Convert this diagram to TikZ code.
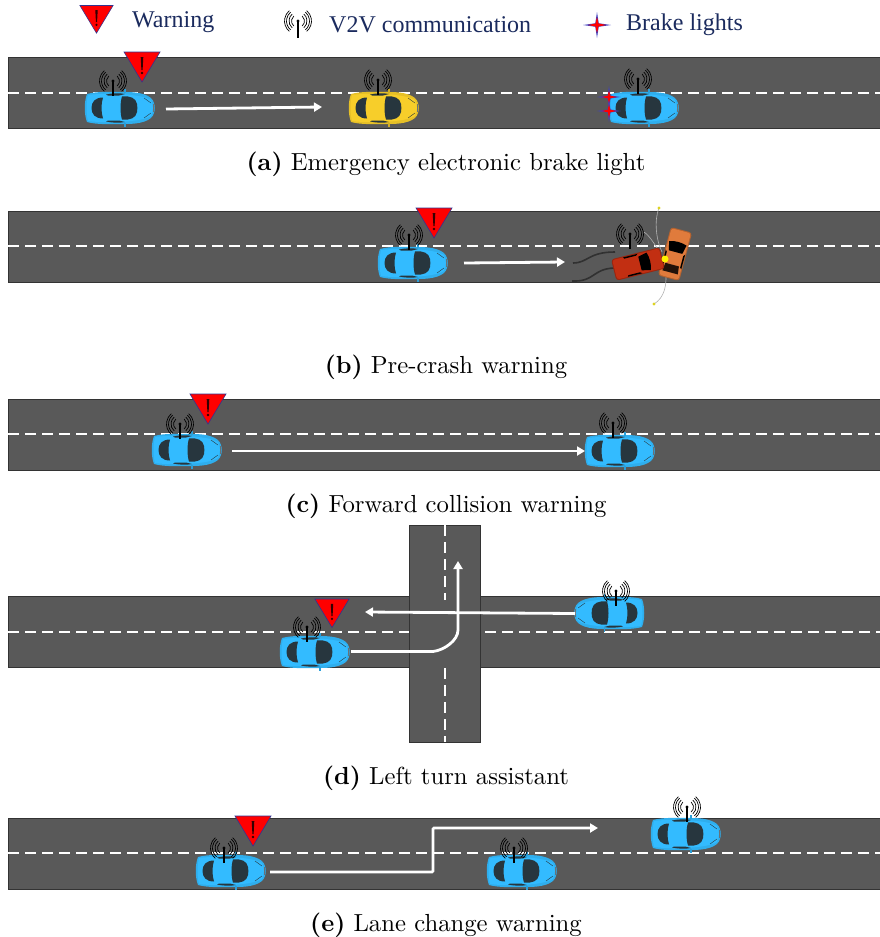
\documentclass[tikz,border=0pt]{standalone}
\usepackage{fontspec}
\newfontfamily\legendfont{Liberation Serif}
\usetikzlibrary{arrows.meta}
\definecolor{asphalt}{HTML}{595959}
\definecolor{roadedge}{HTML}{333333}
\definecolor{carblue}{HTML}{33BBFF}
\definecolor{caryellow}{HTML}{F7CE2A}
\definecolor{glass}{HTML}{27363E}
\definecolor{navytext}{HTML}{1B2B5E}
\definecolor{crashred}{HTML}{C22F12}
\definecolor{crashorange}{HTML}{E07B3C}
\tikzset{
  road/.style={fill=asphalt,draw=roadedge,line width=0.9pt},
  lanemark/.style={draw=white,line width=2.5pt,dash pattern=on 11pt off 6pt},
  pathline/.style={draw=white,line width=2.8pt,-{Triangle[length=8pt,width=9pt]}},
  caption/.style={scale=2.47,anchor=center,inner sep=0pt},
  legendtext/.style={font=\legendfont\fontsize{24}{28}\selectfont,text=navytext,anchor=west,inner sep=0pt},
  skid/.style={draw=black!45!asphalt,line width=1.6pt},
  debris/.style={draw=black!30,line width=0.6pt},
  pics/sportscar/.style={code={
    % body, nose towards +x
    \fill[#1!93!black] (-33,-14) .. controls (-36,-6) and (-36,6) .. (-33,14)
      .. controls (-22,17) and (-8,16) .. (6,16)
      .. controls (20,16) and (32,13) .. (34,5)
      .. controls (35,2) and (35,-2) .. (34,-5)
      .. controls (32,-13) and (20,-16) .. (6,-16)
      .. controls (-8,-16) and (-22,-17) .. (-33,-14) -- cycle;
    \fill[#1] (-32,-13) .. controls (-34,-5) and (-34,5) .. (-32,13)
      .. controls (-20,15) and (20,15) .. (31,8)
      .. controls (33.5,3) and (33.5,-3) .. (31,-8)
      .. controls (20,-15) and (-20,-15) .. (-32,-13) -- cycle;
    % rear window and windscreen
    \fill[glass] (-17,-10.5) .. controls (-25,-10.5) and (-28.5,-6) .. (-28.5,0)
      .. controls (-28.5,6) and (-25,10.5) .. (-17,10.5)
      .. controls (-19,4) and (-19,-4) .. (-17,-10.5) -- cycle;
    \fill[glass] (2,-11.5) .. controls (10,-12.5) and (16,-10) .. (17,-4)
      .. controls (17.5,-1) and (17.5,1) .. (17,4)
      .. controls (16,10) and (10,12.5) .. (2,11.5)
      .. controls (0,5) and (0,-5) .. (2,-11.5) -- cycle;
    % side windows
    \fill[glass] (-14,-13.5) .. controls (-7,-15) and (0,-15) .. (5,-14) -- (-1,-12.5) -- (-12,-12.5) -- cycle;
    \fill[glass] (-14,13.5) .. controls (-7,15) and (0,15) .. (5,14) -- (-1,12.5) -- (-12,12.5) -- cycle;
    % mirrors
    \fill[#1!85!black] (4,-19) rectangle (5.5,-15);
    \fill[#1!85!black] (4,15) rectangle (5.5,19);
    % bonnet creases and nose
    \draw[glass,line width=0.4pt] (24,-10) -- (31,-5);
    \draw[glass,line width=0.4pt] (24,10) -- (31,5);
    \draw[glass!70,line width=0.6pt] (33.5,-4) -- (33.5,4);
  }},
  pics/crashcar/.style={code={
    \fill[#1!80!black,rounded corners=3pt] (-25,-11) -- (-25,11) -- (25,11) -- (25,-11) -- cycle;
    \fill[#1,rounded corners=2.5pt] (-24,-10) -- (-24,10) -- (24,10) -- (24,-10) -- cycle;
    \fill[black] (2,-7) -- (11,-9) .. controls (13,-4) and (13,4) .. (11,9) -- (2,7) -- cycle;
    \fill[black] (-13,-10) -- (2,-10) -- (0,-8.5) -- (-12,-8.5) -- cycle;
    \fill[black] (-13,10) -- (2,10) -- (0,8.5) -- (-12,8.5) -- cycle;
  }},
  pics/rearpane/.style={code={
    \fill[black!85!crashorange] (-19,-8) -- (-11,-7) -- (-11,7) -- (-19,8) -- cycle;
  }},
  pics/alertsign/.style={code={
    \fill[red,draw=black!40!blue!60!gray,line width=0.6pt] (-18,0) -- (18,0) -- (0,30) -- cycle;
    \fill[black!80!red] (-1.3,5) -- (1.3,5) -- (0.6,18) -- (-0.6,18) -- cycle;
    \fill[black!80!red] (0,21) circle (1.3);
  }},
  pics/radiomast/.style={code={
    \draw[black,line width=1.1pt] (0,0) -- (0,15);
    \fill[black] (0,0) circle (1.7);
    \foreach \r in {6.5,9,11.5,13.5} {
      \draw[black,line width=0.7pt] (50:\r) arc (50:-50:\r);
      \draw[black,line width=0.7pt] (130:\r) arc (130:230:\r);
    }
  }},
  pics/brakeflare/.style={code={
    \fill[blue!50!gray] (-14,0) -- (0,-2) -- (14,0) -- (0,2) -- cycle;
    \fill[blue!50!gray] (0,-13) -- (2,0) -- (0,13) -- (-2,0) -- cycle;
    \fill[red] (-9,0) -- (-1.5,-1.5) -- (0,-8) -- (1.5,-1.5) -- (9,0) -- (1.5,1.5) -- (0,8) -- (-1.5,1.5) -- cycle;
  }},
}
\begin{document}
\begin{tikzpicture}[x=1pt,y=-1pt]
\useasboundingbox (0,0) rectangle (880,937);

% ---- key ----
\pic[scale=0.92] at (96.5,5.5) {alertsign};
\node[legendtext] (keywarn) at (132,22) {Warning};
\pic at (298,21) {radiomast};
\draw[black,line width=1.1pt] (298,30) -- (298,38);
\node[legendtext] (keyv2v) at (329,25) {V2V communication};
\pic at (597,25) {brakeflare};
\node[legendtext] (keybrake) at (626,25) {Brake lights};

% ---- (a) ----
\draw[road] (8,57) rectangle (881,128);
\draw[lanemark] (8,93) -- (881,93);
\pic at (120,108) {sportscar=carblue};
\pic at (384,108) {sportscar=caryellow};
\pic at (644,108) {sportscar=carblue};
\pic at (113,81) {radiomast};
\pic at (378,80) {radiomast};
\pic at (638,79) {radiomast};
\pic at (142,52) {alertsign};
\pic[scale=0.85] at (609,97) {brakeflare};
\pic[scale=0.85] at (609,111) {brakeflare};
\coordinate (a1) at (166,109);
\coordinate (a2) at (322,107);
\draw[pathline] (a1) -- (a2);
\node[caption] (capa) at (446,164) {\textbf{(a)} Emergency electronic brake light};

% ---- (b) ----
\draw[road] (8,211) rectangle (881,282);
\draw[lanemark] (8,246) -- (881,246);
\pic at (413,263) {sportscar=carblue};
\pic at (409,235) {radiomast};
\pic at (434,208) {alertsign};
\coordinate (b1) at (464,263);
\coordinate (b2) at (565,262);
\draw[pathline] (b1) -- (b2);
\draw[skid] (573,263) .. controls (588,263) and (588,252) .. (615,252);
\draw[skid] (572,281) .. controls (595,282) and (592,269) .. (614,268);
\draw[debris] (659,208) .. controls (654,220) and (656,240) .. (662,252);
\draw[debris] (654,304) .. controls (664,298) and (668,285) .. (665,268);
\draw[debris] (644,232) .. controls (650,236) and (654,244) .. (660,252);
\fill[yellow!85!black] (659,208) circle (1.7);
\fill[yellow!85!black] (654,304) circle (1.7);
\pic[rotate=75] at (675,254) {crashcar=crashorange};
\pic[rotate=75] at (675,254) {rearpane};
\pic[rotate=14] at (638,264) {crashcar=crashred};
\fill[yellow] (665,259) circle (3.5);
\pic at (630,234) {radiomast};

% ---- (c) ----
\draw[road] (8,399) rectangle (881,470);
\draw[lanemark] (8,434) -- (881,434);
\pic at (187,450) {sportscar=carblue};
\pic at (620,451) {sportscar=carblue};
\pic at (180,424) {radiomast};
\pic at (613,423) {radiomast};
\pic at (208,394) {alertsign};
\coordinate (c1) at (232,451);
\coordinate (c2) at (585,451);
\draw[pathline] (c1) -- (c2);
\node[caption] (capb) at (446,367) {\textbf{(b)} Pre-crash warning};
\node[caption] (capc) at (446,506) {\textbf{(c)} Forward collision warning};

% ---- (d) ----
\draw[road] (8,596) rectangle (881,667);
\draw[lanemark] (8,632) -- (409,632);
\draw[lanemark] (485,632) -- (881,632);
\draw[road] (409,525.5) rectangle (480.5,742);
\draw[lanemark] (445,525) -- (445,600);
\draw[lanemark] (445,668) -- (445,742);
\pic at (315,652) {sportscar=carblue};
\pic[rotate=180] at (609,613) {sportscar=carblue};
\pic at (307,627) {radiomast};
\pic at (616,591) {radiomast};
\pic[scale=0.95] at (332,599) {alertsign};
\coordinate (d1) at (351,651.5);
\coordinate (d2) at (458,561);
\coordinate (d3) at (575,613.5);
\coordinate (d4) at (365,612);
\draw[pathline] (d1) -- (433,651.5) .. controls (445,650) and (458,640) .. (458,630) -- (d2);
\draw[pathline] (d3) -- (d4);
\node[caption] (capd) at (446,778) {\textbf{(d)} Left turn assistant};

% ---- (e) ----
\draw[road] (8,818) rectangle (881,889);
\draw[lanemark] (8,853) -- (881,853);
\pic at (231,871) {sportscar=carblue};
\pic at (522,871) {sportscar=carblue};
\pic at (686,834) {sportscar=carblue};
\pic at (224,848) {radiomast};
\pic at (514,848) {radiomast};
\pic at (687,807) {radiomast};
\pic at (253,816) {alertsign};
\coordinate (e1) at (270,872);
\coordinate (e2) at (598,828);
\draw[pathline,rounded corners=1pt] (e1) -- (433,872) -- (433,828) -- (e2);
\node[caption] (cape) at (446,925) {\textbf{(e)} Lane change warning};
\end{tikzpicture}
\end{document}
